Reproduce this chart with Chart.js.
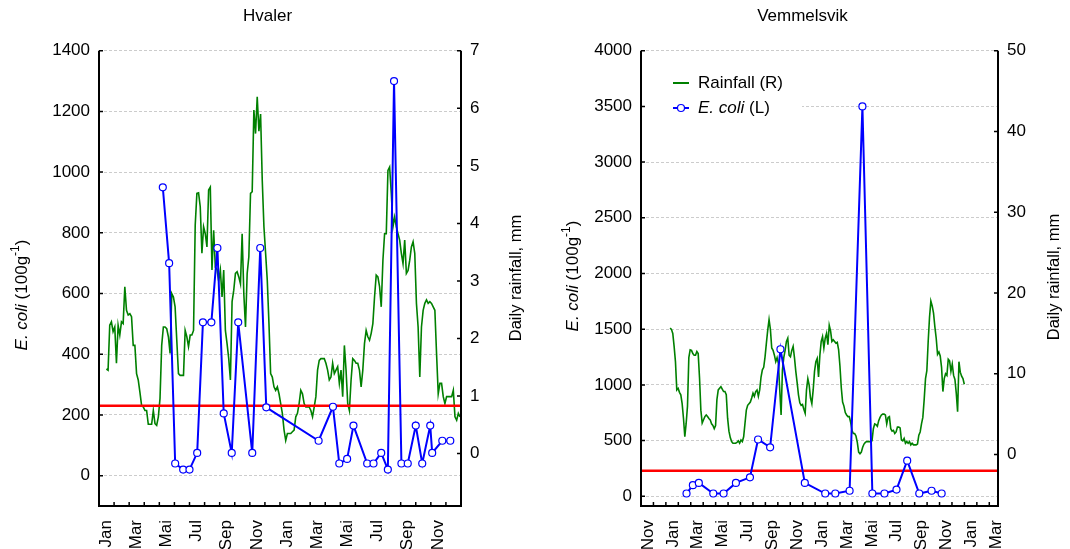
<!DOCTYPE html>
<html>
<head>
<meta charset="utf-8">
<script src="https://cdn.jsdelivr.net/npm/chart.js@4.4.1/dist/chart.umd.min.js"></script>
<style>
    html, body { margin: 0; padding: 0; background: #fff; }
    #wrap { display: flex; width: 1070px; height: 549px; }
</style>
</head>
<body>
<div id="wrap">
    <canvas id="hvalerChart" width="535" height="549"></canvas>
    <canvas id="vemChart" width="535" height="549"></canvas>
</div>
<script>
const monthNames = ['Jan', 'Feb', 'Mar', 'Apr', 'Mai', 'Jun', 'Jul', 'Aug', 'Sep', 'Okt', 'Nov', 'Des'];
const ecoliLimit = 230;

// Hvaler: x in months from 1 Jan of the first year
const hvEcoliMonth = [4.23, 4.65, 5.05, 5.58, 6.0, 6.51, 6.89, 7.45, 7.85, 8.27, 8.8, 9.23, 10.16, 10.69, 11.09,
    14.56, 15.51, 15.93, 16.45, 16.87, 17.78, 18.2, 18.71, 19.15, 19.56, 20.05, 20.47, 21.0, 21.43, 21.96, 22.09, 22.76, 23.29];
const hvEcoli = [950, 700, 40, 20, 20, 75, 505, 505, 750, 205, 75, 505, 75, 750, 225,
    115, 227, 40, 55, 165, 40, 40, 75, 20, 1300, 40, 40, 165, 40, 165, 75, 115, 115];
const hvRainStart = 0.49;   // first rainfall reading, months
const hvRainStep = 1 / 9;   // spacing of readings, months
const hvRain = [1.47, 1.45, 2.23, 2.29, 2.12, 2.2, 1.57, 2.23, 2.06, 2.29, 2.26, 2.9, 2.49, 2.41, 2.43, 2.38, 1.88, 1.88,
    1.39, 1.28, 1.07, 0.84, 0.81, 0.75, 0.75, 0.51, 0.51, 0.51, 0.75, 0.52, 0.49, 0.64, 0.96, 1.88, 2.2, 2.2, 2.17, 2.03,
    1.74, 2.78, 2.72, 2.55, 1.97, 1.39, 1.36, 1.36, 1.36, 2.14, 2.03, 1.86, 2.06, 2.06, 2.14, 3.97, 4.52, 4.53, 4.29, 3.48,
    3.94, 3.82, 3.59, 4.58, 4.63, 3.19, 3.88, 3.24, 3.2, 3.0, 3.19, 2.72, 3.19, 2.14, 1.91, 1.65, 1.28, 2.64, 2.84, 3.13,
    3.16, 3.07, 2.95, 3.82, 2.78, 2.2, 3.13, 3.42, 4.52, 4.55, 5.97, 5.56, 6.2, 5.6, 5.9, 4.75, 3.94, 3.48, 3.01, 2.26,
    1.39, 1.33, 1.16, 1.1, 1.16, 1.04, 0.87, 0.7, 0.41, 0.23, 0.35, 0.35, 0.35, 0.38, 0.41, 0.64, 0.7, 0.87, 1.1, 1.04,
    0.87, 0.81, 0.81, 0.81, 0.75, 0.64, 0.81, 0.99, 1.45, 1.62, 1.65, 1.65, 1.65, 1.57, 1.45, 1.28, 1.33, 1.57, 1.39, 1.45,
    1.51, 1.22, 1.45, 0.99, 1.88, 1.45, 0.87, 0.75, 1.28, 1.65, 1.62, 1.57, 1.57, 1.45, 1.16, 1.45, 1.91, 2.14, 2.03, 1.97,
    2.09, 2.26, 2.72, 3.1, 3.07, 2.9, 2.55, 3.36, 3.82, 3.82, 4.92, 4.98, 4.52, 3.94, 4.11, 3.94, 3.82, 3.71, 3.48, 3.3,
    3.71, 3.13, 3.18, 3.36, 3.59, 3.68, 3.48, 2.61, 2.2, 1.33, 2.2, 2.49, 2.61, 2.67, 2.61, 2.64, 2.61, 2.55, 2.49, 1.74,
    1.04, 1.22, 1.22, 0.99, 0.87, 0.99, 0.99, 0.99, 0.99, 1.1, 0.64, 0.58, 0.7, 0.64];

// Vemmelsvik: x in months from 1 Nov of the year before
const vmEcoliMonth = [3.66, 4.17, 4.65, 5.81, 6.64, 7.63, 8.76, 9.41, 10.38, 11.21, 13.17,
    14.81, 15.62, 16.77, 17.8, 18.6, 19.57, 20.54, 21.4, 22.37, 23.36, 24.17];
const vmEcoli = [25, 100, 120, 25, 25, 120, 170, 510, 440, 1320, 120,
    25, 25, 50, 3500, 25, 25, 60, 320, 25, 50, 25];
const vmRainStart = 2.34;
const vmRainStep = 0.1075;
const vmRain = [15.65, 15.5, 15.0, 13.4, 11.5, 8.0, 8.2, 7.7, 7.4, 6.3, 4.5, 2.2, 3.85, 6.0, 12.0, 12.96, 12.9, 12.5,
    12.3, 12.3, 12.75, 12.5, 9.5, 5.5, 3.9, 4.3, 4.7, 4.9, 4.7, 4.47, 4.3, 3.8, 3.6, 3.2, 3.6, 6.8, 8.0, 8.2, 8.4, 8.1,
    7.8, 7.8, 7.4, 4.5, 2.9, 2.1, 1.6, 1.4, 1.4, 1.4, 1.5, 1.7, 1.4, 1.8, 1.6, 2.2, 3.85, 5.5, 6.1, 6.3, 6.5, 7.0, 7.6,
    7.2, 7.8, 8.0, 7.2, 8.0, 9.6, 10.5, 10.8, 12.1, 13.8, 15.4, 16.7, 15.5, 13.2, 12.9, 12.3, 11.5, 12.0, 11.3, 8.0, 4.9,
    10.5, 12.0, 12.9, 14.0, 14.4, 12.3, 12.1, 12.9, 13.4, 12.0, 10.3, 8.9, 7.4, 6.4, 6.1, 6.2, 5.6, 5.1, 8.0, 9.4, 8.6,
    7.0, 6.3, 8.0, 10.3, 11.5, 11.9, 9.6, 12.3, 14.0, 14.6, 13.2, 14.4, 15.0, 13.6, 16.0, 15.3, 14.0, 14.2, 14.0, 13.8,
    13.9, 13.0, 11.0, 8.3, 6.5, 6.0, 5.2, 4.9, 4.7, 4.7, 4.0, 3.0, 2.6, 2.6, 2.3, 1.5, 0.3, 0.1, 0.3, 0.9, 1.3, 1.5, 1.6,
    1.6, 1.6, 1.6, 1.7, 3.2, 3.8, 3.7, 3.5, 4.2, 4.6, 4.9, 5.0, 5.0, 4.9, 3.8, 4.6, 4.7, 3.2, 2.9, 3.0, 2.6, 2.8, 3.4,
    3.4, 3.3, 1.8, 1.7, 2.0, 1.4, 1.6, 1.4, 1.6, 1.2, 1.4, 1.2, 1.2, 1.2, 1.3, 2.4, 2.8, 3.8, 4.6, 6.8, 9.4, 10.4, 14.0,
    17.0, 19.0, 18.4, 17.5, 15.8, 14.4, 12.4, 12.7, 12.2, 10.8, 7.8, 9.4, 10.0, 9.8, 11.8, 11.6, 10.3, 11.2, 9.8, 9.3,
    7.6, 5.3, 11.5, 10.2, 9.7, 9.4, 8.7];

const hvEcoliTicks = [0, 200, 400, 600, 800, 1000, 1200, 1400];
const hvRainTicks = [0, 1, 2, 3, 4, 5, 6, 7];
const vmEcoliTicks = [0, 500, 1000, 1500, 2000, 2500, 3000, 3500, 4000];
const vmRainTicks = [0, 10, 20, 30, 40, 50];

Chart.defaults.font.family = '"Liberation Sans", Arial, sans-serif';
Chart.defaults.color = '#000';

const FONT = '"Liberation Sans", Arial, sans-serif';

function drawVertical(ctx, x, y, parts) {
    // parts: [text, font, raise]
    let w = 0;
    parts.forEach(p => { ctx.font = p[1]; w += ctx.measureText(p[0]).width; });
    ctx.save();
    ctx.translate(x, y);
    ctx.rotate(-Math.PI / 2);
    ctx.textBaseline = 'middle';
    ctx.textAlign = 'left';
    let cx = -w / 2;
    parts.forEach(p => {
        ctx.font = p[1];
        ctx.fillText(p[0], cx, -(p[2] || 0));
        cx += ctx.measureText(p[0]).width;
    });
    ctx.restore();
}

const frame = {
    id: 'frame',
    beforeDatasetsDraw(chart, args, o) {
        if (!o.legend) return;
        // legend sits on a white patch that hides the grid line behind it
        const a = chart.chartArea;
        chart.ctx.save();
        chart.ctx.fillStyle = '#fff';
        chart.ctx.fillRect(a.left + 2, 66, 159, 54);
        chart.ctx.restore();
    },
    afterDraw(chart, args, o) {
        const ctx = chart.ctx, a = chart.chartArea;
        ctx.save();
        ctx.strokeStyle = '#000';
        ctx.lineWidth = 2;
        ctx.beginPath();
        ctx.moveTo(a.left, a.top);
        ctx.lineTo(a.left, a.bottom);
        ctx.lineTo(a.right, a.bottom);
        ctx.lineTo(a.right, a.top);
        ctx.stroke();

        // short ticks pointing into the plot
        ctx.lineWidth = 1.5;
        ctx.beginPath();
        chart.scales.yL.ticks.forEach(t => {
            const p = chart.scales.yL.getPixelForValue(t.value);
            ctx.moveTo(a.left, p); ctx.lineTo(a.left + 4, p);
        });
        chart.scales.yR.ticks.forEach(t => {
            const p = chart.scales.yR.getPixelForValue(t.value);
            ctx.moveTo(a.right, p); ctx.lineTo(a.right - 4, p);
        });
        chart.scales.x.ticks.forEach(t => {
            const p = chart.scales.x.getPixelForValue(t.value);
            ctx.moveTo(p, a.bottom); ctx.lineTo(p, a.bottom - 4);
        });
        ctx.stroke();

        ctx.fillStyle = '#000';
        drawVertical(ctx, o.leftX, o.leftY, [
            ['E. coli', 'italic 17px ' + FONT],
            [' (100g', '17px ' + FONT],
            ['-1', '12px ' + FONT, 6],
            [')', '17px ' + FONT]
        ]);
        drawVertical(ctx, o.rightX, o.rightY, [['Daily rainfall, mm', '16.5px ' + FONT]]);

        if (o.legend) {
            const lx = a.left + 32, ly = 83;
            ctx.lineWidth = 2;
            ctx.strokeStyle = '#008000';
            ctx.beginPath(); ctx.moveTo(lx, ly); ctx.lineTo(lx + 16, ly); ctx.stroke();
            ctx.strokeStyle = '#0000ff';
            ctx.beginPath(); ctx.moveTo(lx, ly + 25); ctx.lineTo(lx + 16, ly + 25); ctx.stroke();
            ctx.fillStyle = '#fff';
            ctx.lineWidth = 1.2;
            ctx.beginPath(); ctx.arc(lx + 8, ly + 25, 3.5, 0, Math.PI * 2); ctx.fill(); ctx.stroke();
            ctx.fillStyle = '#000';
            ctx.textBaseline = 'middle';
            ctx.textAlign = 'left';
            ctx.font = '17px ' + FONT;
            ctx.fillText('Rainfall (R)', lx + 25, ly);
            ctx.font = 'italic 17px ' + FONT;
            ctx.fillText('E. coli', lx + 25, ly + 25);
            const w = ctx.measureText('E. coli').width;
            ctx.font = '17px ' + FONT;
            ctx.fillText(' (L)', lx + 25 + w, ly + 25);
        }
        ctx.restore();
    }
};

function makeChart(id, cfg) {
    const rainPts = cfg.rain.map((v, i) => ({ x: cfg.rainStart + i * cfg.rainStep, y: v }));
    const ecoliPts = cfg.ecoli.map((v, i) => ({ x: cfg.ecoliMonth[i], y: v }));
    const monthTicks = [];
    for (let m = 0; m <= Math.floor(cfg.xMax); m++) monthTicks.push(m);

    return new Chart(document.getElementById(id).getContext('2d'), {
        type: 'line',
        data: {
            datasets: [
                {
                    label: 'E. coli (L)',
                    data: ecoliPts,
                    yAxisID: 'yL',
                    borderColor: '#0000ff',
                    borderWidth: 2,
                    pointRadius: 3.5,
                    pointBackgroundColor: '#fff',
                    pointBorderColor: '#0000ff',
                    pointBorderWidth: 1.2,
                    order: 0
                },
                {
                    label: 'limit',
                    data: [{ x: 0, y: ecoliLimit }, { x: cfg.xMax, y: ecoliLimit }],
                    yAxisID: 'yL',
                    borderColor: '#ff0000',
                    borderWidth: 2.5,
                    pointRadius: 0,
                    order: 1
                },
                {
                    label: 'Rainfall (R)',
                    data: rainPts,
                    yAxisID: 'yR',
                    borderColor: '#008000',
                    borderWidth: 1.6,
                    pointRadius: 0,
                    order: 2
                }
            ]
        },
        options: {
            responsive: false,
            animation: false,
            events: [],
            layout: { padding: 0 },
            plugins: {
                legend: { display: false },
                tooltip: { enabled: false },
                title: {
                    display: true,
                    text: cfg.title,
                    font: { size: 17, weight: 'normal' },
                    color: '#000',
                    padding: { top: 6, bottom: 24.3 }
                },
                frame: cfg.frame
            },
            scales: {
                x: {
                    type: 'linear',
                    min: 0,
                    max: cfg.xMax,
                    grid: { display: false },
                    border: { display: false },
                    afterBuildTicks: s => { s.ticks = monthTicks.map(v => ({ value: v })); },
                    afterFit: s => { s.height = 43; },
                    ticks: {
                        autoSkip: false,
                        minRotation: 90,
                        maxRotation: 90,
                        padding: 6,
                        labelOffset: 7,
                        font: { size: 17 },
                        callback: v => (v % 2 === 0 && v <= cfg.lastLabel ? monthNames[(cfg.startMonth + v) % 12] : '')
                    }
                },
                yL: {
                    type: 'linear',
                    position: 'left',
                    min: cfg.ecoliMin,
                    max: cfg.ecoliMax,
                    afterBuildTicks: s => { s.ticks = cfg.ecoliTicks.map(v => ({ value: v })); },
                    afterFit: s => { s.width = cfg.leftW; },
                    grid: { color: '#cccccc', lineWidth: 1, drawTicks: false },
                    border: { display: false, dash: [3, 2] },
                    ticks: { padding: 9, font: { size: 17 }, callback: v => String(v) }
                },
                yR: {
                    type: 'linear',
                    position: 'right',
                    min: cfg.rainMin,
                    max: cfg.rainMax,
                    afterBuildTicks: s => { s.ticks = cfg.rainTicks.map(v => ({ value: v })); },
                    afterFit: s => { s.width = cfg.rightW; },
                    grid: { drawOnChartArea: false, drawTicks: false },
                    border: { display: false },
                    ticks: { padding: 9, font: { size: 17 }, callback: v => String(v) }
                }
            }
        },
        plugins: [frame]
    });
}

const hvalerChart = makeChart('hvalerChart', {
    title: 'Hvaler',
    ecoli: hvEcoli, ecoliMonth: hvEcoliMonth,
    rain: hvRain, rainStart: hvRainStart, rainStep: hvRainStep,
    xMax: 24, startMonth: 0, lastLabel: 22,
    ecoliMin: -100, ecoliMax: 1400, ecoliTicks: hvEcoliTicks,
    rainMin: -0.91, rainMax: 7, rainTicks: hvRainTicks,
    leftW: 99, rightW: 74,
    frame: { leftX: 22, leftY: 295, rightX: 516, rightY: 278, legend: false }
});

const vemChart = makeChart('vemChart', {
    title: 'Vemmelsvik',
    ecoli: vmEcoli, ecoliMonth: vmEcoliMonth,
    rain: vmRain, rainStart: vmRainStart, rainStep: vmRainStep,
    xMax: 28.7, startMonth: 10, lastLabel: 28,
    ecoliMin: -87, ecoliMax: 4000, ecoliTicks: vmEcoliTicks,
    rainMin: -6.37, rainMax: 50, rainTicks: vmRainTicks,
    leftW: 106, rightW: 72,
    frame: { leftX: 38, leftY: 276, rightX: 519, rightY: 277, legend: true }
});
</script>
</body>
</html>
